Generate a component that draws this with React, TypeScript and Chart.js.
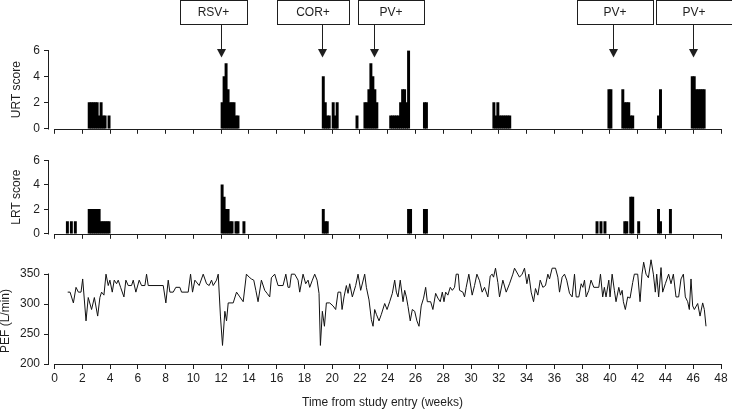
import React, { useEffect, useRef } from "react";
import { Chart, registerables } from "chart.js";

Chart.register(...registerables);

// ---------------- data ----------------
const DAYS_PER_WEEK = 7;

const weekTicks = [0, 2, 4, 6, 8, 10, 12, 14, 16, 18, 20, 22, 24, 26, 28, 30, 32, 34, 36, 38, 40, 42, 44, 46, 48];
const weekTickLabels = ["0", "2", "4", "6", "8", "10", "12", "14", "16", "18", "20", "22", "24", "26", "28", "30", "32", "34", "36", "38", "40", "42", "44", "46", "48"];
const scoreTicks = [0, 2, 4, 6];
const pefTicks = [200, 250, 300, 350];

// URT score: day index since study entry and score
const urtDays = [
  17, 18, 19, 20, 21, 22, 23, 24, 25, 27,
  84, 85, 86, 87, 88, 89, 90, 91, 92,
  135, 136, 137, 138, 140, 141, 142,
  152,
  156, 157, 158, 159, 160, 161, 162,
  169, 170, 171, 172, 173, 174, 175, 176, 177, 178,
  186, 187,
  221, 222, 223, 224, 225, 226, 227, 228, 229,
  279, 280,
  286, 287, 288, 289, 290, 291,
  304, 305,
  321, 322, 323, 324, 325, 326, 327,
];
const urtScores = [
  2, 2, 2, 2, 2, 1, 2, 1, 1, 1,
  2, 4, 5, 3, 2, 2, 2, 1, 1,
  4, 2, 1, 1, 2, 1, 2,
  1,
  2, 2, 3, 5, 4, 3, 2,
  1, 1, 1, 1, 1, 2, 3, 3, 2, 6,
  2, 2,
  2, 1, 2, 1, 1, 1, 1, 1, 1,
  3, 3,
  3, 2, 2, 2, 1, 1,
  1, 3,
  4, 4, 3, 3, 3, 3, 3,
];

// LRT score
const lrtDays = [
  6, 8, 10,
  17, 18, 19, 20, 21, 22, 23, 24, 25, 26, 27,
  84, 85, 86, 87, 88, 89, 91, 92, 95,
  135, 136, 137,
  178, 179,
  186, 187,
  273, 275, 277,
  287, 288, 290, 291, 294,
  304, 305,
  310,
];
const lrtScores = [
  1, 1, 1,
  2, 2, 2, 2, 2, 2, 1, 1, 1, 1, 1,
  4, 3, 2, 2, 1, 1, 1, 1, 1,
  2, 1, 1,
  2, 2,
  2, 2,
  1, 1, 1,
  1, 1, 3, 3, 1,
  2, 1,
  2,
];

// PEF (L/min)
const pefWeeks = [
  0.95, 1.12, 1.36, 1.55, 1.72, 1.91, 2.03, 2.27, 2.43, 2.67, 2.87, 3.11, 3.27, 3.39, 3.56, 3.71, 3.87, 3.99,
  4.16, 4.3, 4.47, 4.59, 4.76, 5.0, 5.14, 5.31, 5.55, 5.67, 5.86, 6.1, 6.27, 6.51, 6.63, 6.75, 7.83, 8.02,
  8.19, 8.31, 8.55, 8.74, 9.03, 9.15, 9.63, 9.8, 9.94, 10.11, 10.42, 10.71, 10.95, 11.14, 11.31, 11.43, 11.67,
  11.79, 11.95, 12.1, 12.27, 12.39, 12.51, 12.87, 13.11, 13.35, 13.59, 13.82, 14.02, 14.18, 14.35, 14.5,
  14.66, 14.9, 15.14, 15.31, 15.5, 15.62, 15.86, 16.1, 16.46, 16.66, 16.82, 16.94, 17.06, 17.3, 17.54,
  17.66, 17.9, 18.09, 18.26, 18.38, 18.57, 18.74, 18.91, 19.05, 19.15, 19.29, 19.44, 19.58, 19.82, 20.06,
  20.25, 20.42, 20.61, 20.71, 20.85, 21.02, 21.14, 21.26, 21.45, 21.69, 21.86, 22.05, 22.34, 22.46, 22.65,
  22.82, 22.94, 23.06, 23.18, 23.37, 23.54, 23.78, 23.95, 24.14, 24.33, 24.5, 24.62, 24.74, 24.9, 25.1,
  25.22, 25.34, 25.46, 25.62, 25.77, 25.94, 26.1, 26.25, 26.41, 26.58, 26.73, 26.85, 27.09, 27.25, 27.45,
  27.61, 27.78, 27.93, 28.05, 28.17, 28.33, 28.5, 28.65, 28.81, 28.93, 29.08, 29.17, 29.41, 29.53, 29.65,
  29.84, 30.08, 30.25, 30.42, 30.61, 30.8, 30.97, 31.21, 31.38, 31.52, 31.62, 31.76, 31.93, 32.05, 32.29,
  32.53, 32.77, 33.01, 33.13, 33.37, 33.49, 33.68, 33.85, 34.02, 34.16, 34.33, 34.5, 34.64, 34.81, 34.98,
  35.17, 35.36, 35.53, 35.65, 35.84, 36.08, 36.25, 36.37, 36.56, 36.73, 36.89, 37.09, 37.28, 37.45, 37.57,
  37.76, 37.93, 38.05, 38.17, 38.29, 38.48, 38.64, 38.84, 39.0, 39.2, 39.32, 39.48, 39.6, 39.72, 39.92,
  40.01, 40.16, 40.32, 40.44, 40.64, 40.76, 40.88, 40.97, 41.11, 41.28, 41.45, 41.64, 41.76, 42.0, 42.17,
  42.31, 42.43, 42.6, 42.77, 42.96, 43.13, 43.27, 43.37, 43.51, 43.68, 43.8, 43.99, 44.23, 44.4, 44.57,
  44.76, 44.95, 45.12, 45.29, 45.43, 45.6, 45.72, 45.84, 45.96, 46.08, 46.32, 46.49, 46.68, 46.8, 46.92,
];
const pefValues = [
  320, 320, 302, 328, 320, 320, 342, 272, 311, 291, 311, 280, 311, 320, 315, 350, 331, 340,
  320, 340, 334, 340, 328, 312, 340, 331, 331, 340, 320, 340, 331, 331, 350, 331, 331, 302,
  340, 320, 320, 328, 328, 320, 320, 350, 320, 340, 331, 350, 334, 331, 340, 331, 340,
  350, 280, 231, 288, 272, 302, 302, 320, 312, 304, 350, 345, 342, 340, 323,
  304, 340, 323, 318, 312, 344, 350, 331, 331, 350, 328, 328, 350, 350, 340,
  320, 350, 334, 340, 328, 340, 350, 340, 318, 231, 288, 263, 302, 302, 297,
  291, 320, 320, 291, 312, 331, 318, 334, 312, 331, 350, 323, 350, 328, 307,
  274, 263, 291, 283, 272, 283, 301, 291, 304, 318, 340, 320, 312, 340, 304,
  323, 312, 296, 272, 291, 288, 272, 263, 297, 310, 328, 304, 304, 291, 318,
  310, 304, 320, 304, 320, 315, 328, 323, 328, 350, 350, 323, 320, 312, 328,
  350, 315, 331, 350, 339, 320, 328, 312, 347, 350, 345, 360, 336, 312, 340,
  320, 334, 350, 360, 350, 345, 350, 360, 334, 350, 320, 304, 326, 315, 340,
  328, 331, 350, 342, 360, 360, 345, 320, 345, 350, 340, 318, 312, 350, 312,
  312, 334, 328, 340, 312, 323, 340, 328, 328, 328, 350, 312, 328, 312, 340,
  312, 350, 323, 304, 328, 315, 323, 304, 291, 312, 310, 336, 350, 350, 304,
  350, 370, 350, 344, 374, 350, 320, 350, 312, 361, 320, 334, 350, 334, 350,
  312, 312, 342, 350, 312, 304, 291, 342, 297, 291, 301, 280, 302, 291, 263,
];

// virus detections
const eventLabels = ["RSV+", "COR+", "PV+", "PV+", "PV+"];
const eventWeeks = [12, 19.3, 23, 40.2, 46];

// ---------------- layout / style ----------------
const W = 732;
const AXIS_W = 49;
const PAD_R = 6;
const X_MIN = -0.396;
const X_MAX = 48.36;
const INK = "#1e1e1e";
const FONT = { family: "'Liberation Sans', Arial, Helvetica, sans-serif", size: 12 };
const FONT_CSS = `12px 'Liberation Sans', Arial, Helvetica, sans-serif`;
const BOX_EXTENTS: [number, number][] = [[180, 247], [277, 349], [358, 424], [577, 653], [656, 732]];
const BOX_H = 24;
const BAR_PX = 2.3;

const axisLinesPlugin = {
  id: "axisLines",
  afterDraw(chart: any) {
    const { ctx, chartArea, scales } = chart;
    const x = scales.x;
    const y = scales.y;
    const yt = chart.options.scales.y._tickValues as number[];
    ctx.save();
    ctx.strokeStyle = INK;
    ctx.lineWidth = 1;
    ctx.beginPath();
    const yb = Math.round(chartArea.bottom) + 0.5;
    ctx.moveTo(x.getPixelForValue(weekTicks[0]) - 0.5, yb);
    ctx.lineTo(x.getPixelForValue(weekTicks[weekTicks.length - 1]) + 0.5, yb);
    const xl = Math.round(chartArea.left) - 0.5;
    ctx.moveTo(xl, Math.round(y.getPixelForValue(yt[0])) + 0.5);
    ctx.lineTo(xl, Math.round(y.getPixelForValue(yt[yt.length - 1])) - 0.5);
    ctx.stroke();
    ctx.restore();
  },
};

// axis titles placed like the original figure
const titlesPlugin = {
  id: "axisTitles",
  afterDraw(chart: any) {
    const t = chart.options.plugins.axisTitles;
    if (!t || !t.show) return;
    const { ctx } = chart;
    ctx.save();
    ctx.fillStyle = INK;
    ctx.font = FONT_CSS;
    ctx.textAlign = "center";
    ctx.textBaseline = "middle";
    if (t.x) ctx.fillText(t.x.text, t.x.cx, t.x.cy);
    if (t.y) {
      ctx.translate(t.y.cx, t.y.cy);
      ctx.rotate(-Math.PI / 2);
      ctx.fillText(t.y.text, 0, 0);
    }
    ctx.restore();
  },
};

const eventsPlugin = {
  id: "events",
  afterDraw(chart: any) {
    if (!chart.options.plugins.events?.show) return;
    const { ctx } = chart;
    const x = chart.scales.x;
    ctx.save();
    ctx.strokeStyle = INK;
    ctx.fillStyle = INK;
    ctx.lineWidth = 1;
    ctx.font = FONT_CSS;
    ctx.textAlign = "center";
    ctx.textBaseline = "middle";
    eventLabels.forEach((label, i) => {
      const [l, r] = BOX_EXTENTS[i];
      ctx.strokeRect(l + 0.5, 0.5, r - l, BOX_H);
      ctx.fillText(label, (l + r) / 2, BOX_H / 2 + 1);
      const ax = Math.round(x.getPixelForValue(eventWeeks[i])) + 0.5;
      ctx.beginPath();
      ctx.moveTo(ax, BOX_H + 0.5);
      ctx.lineTo(ax, 50);
      ctx.stroke();
      ctx.beginPath();
      ctx.moveTo(ax - 4.5, 49);
      ctx.lineTo(ax + 4.5, 49);
      ctx.lineTo(ax, 57.5);
      ctx.closePath();
      ctx.fill();
    });
    ctx.restore();
  },
};

function xScale(showLabels: boolean) {
  return {
    type: "linear",
    min: X_MIN,
    max: X_MAX,
    offset: false,
    afterBuildTicks: (s: any) => {
      s.ticks = weekTicks.map((v) => ({ value: v }));
    },
    grid: { display: true, offset: false, drawOnChartArea: false, drawTicks: true, tickLength: 5, color: INK, lineWidth: 1 },
    border: { display: false },
    ticks: {
      display: showLabels,
      font: FONT,
      color: INK,
      padding: 2,
      maxRotation: 0,
      autoSkip: false,
      callback: (v: number) => weekTickLabels[weekTicks.indexOf(v)],
    },
    title: { display: false },
  };
}

function yScale(min: number, max: number, tickVals: number[], title: string | null) {
  return {
    type: "linear",
    min,
    max,
    _tickValues: tickVals,
    afterBuildTicks: (s: any) => {
      s.ticks = tickVals.map((v) => ({ value: v }));
    },
    afterFit: (s: any) => {
      s.width = AXIS_W;
    },
    grid: { display: true, drawOnChartArea: false, drawTicks: true, tickLength: 5, color: INK, lineWidth: 1 },
    border: { display: false },
    ticks: { font: FONT, color: INK, padding: 4, callback: (v: number) => String(v) },
    title: title
      ? { display: true, text: title, font: FONT, color: INK, padding: { top: 9.5, bottom: 0 } }
      : { display: false },
  };
}

function barConfig(days: number[], scores: number[], title: string, padTop: number, padBottom: number, showEvents: boolean) {
  return {
    type: "bar",
    data: {
      datasets: [
        {
          data: days.map((d, i) => ({ x: (d + 0.5) / DAYS_PER_WEEK, y: scores[i] })),
          backgroundColor: "#000",
          borderWidth: 0,
          barThickness: BAR_PX,
          grouped: false,
        },
      ],
    },
    options: {
      responsive: false,
      animation: false,
      layout: { padding: { top: padTop, bottom: padBottom, left: 0, right: PAD_R } },
      plugins: { legend: { display: false }, tooltip: { enabled: false }, events: { show: showEvents } },
      scales: { x: xScale(false), y: yScale(0, 6, scoreTicks, title) },
    },
    plugins: [axisLinesPlugin, eventsPlugin],
  };
}

function pefConfig() {
  return {
    type: "line",
    data: {
      datasets: [
        {
          data: pefWeeks.map((w, i) => ({ x: w, y: pefValues[i] })),
          borderColor: "#111",
          borderWidth: 1,
          pointRadius: 0,
          tension: 0,
          fill: false,
        },
      ],
    },
    options: {
      responsive: false,
      animation: false,
      layout: { padding: { top: 9.8, bottom: 21.6, left: 0, right: PAD_R } },
      plugins: {
        legend: { display: false },
        tooltip: { enabled: false },
        events: { show: false },
        axisTitles: {
          show: true,
          x: { text: "Time from study entry (weeks)", cx: 382.5, cy: 157.5 },
          y: { text: "PEF (L/min)", cx: 5.5, cy: 76 },
        },
      },
      scales: { x: xScale(true), y: yScale(200, 380, pefTicks, null) },
    },
    plugins: [axisLinesPlugin, titlesPlugin],
  };
}

function ChartCanvas({ config, top, height }: { config: () => any; top: number; height: number }) {
  const ref = useRef<HTMLCanvasElement | null>(null);
  useEffect(() => {
    if (!ref.current) return;
    const chart = new Chart(ref.current, config());
    return () => chart.destroy();
  }, []);
  return (
    <canvas
      ref={ref}
      width={W}
      height={height}
      style={{ position: "absolute", left: 0, top, width: W, height, display: "block" }}
    />
  );
}

export default function App() {
  return (
    <div style={{ position: "fixed", left: 0, top: 0, width: W, height: 409, background: "#fff", overflow: "hidden" }}>
      <ChartCanvas top={0} height={140} config={() => barConfig(urtDays, urtScores, "URT score", 50.5, 5, true)} />
      <ChartCanvas top={140} height={105} config={() => barConfig(lrtDays, lrtScores, "LRT score", 20.5, 0, false)} />
      <ChartCanvas top={245} height={164} config={pefConfig} />
    </div>
  );
}
